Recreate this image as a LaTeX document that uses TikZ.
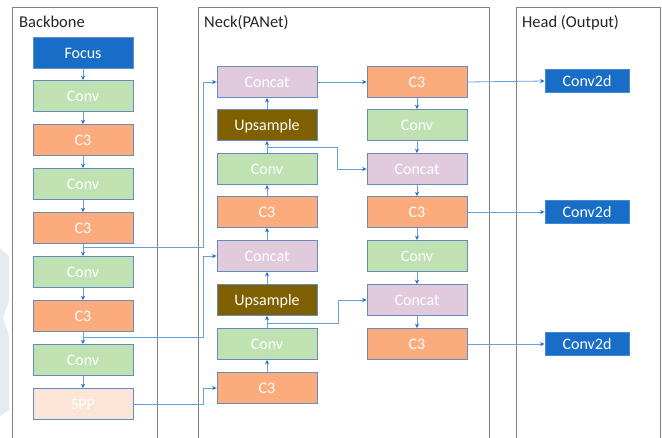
\documentclass[tikz,border=0pt]{standalone}
\usepackage{fontspec}
\setmainfont{Carlito}
\usetikzlibrary{arrows.meta}
\definecolor{fblue}{RGB}{24,110,198}
\definecolor{cgreen}{RGB}{192,225,178}
\definecolor{corange}{RGB}{252,172,124}
\definecolor{cpink}{RGB}{226,202,221}
\definecolor{cbrown}{RGB}{127,96,0}
\definecolor{cspp}{RGB}{252,228,214}
\definecolor{bord}{RGB}{100,140,190}
\definecolor{lnk}{RGB}{100,160,220}
\definecolor{tip}{RGB}{40,110,195}
\definecolor{panel}{RGB}{130,130,130}
\definecolor{wm}{RGB}{228,236,242}
\tikzset{
  blk/.style={draw=bord, line width=0.8pt, minimum width=100pt, minimum height=31pt, inner sep=0pt,
    text=white, font=\fontsize{16}{18}\selectfont, text height=10.5pt, text depth=0pt},
  focusb/.style={blk, fill=fblue},
  convb/.style={blk, fill=cgreen},
  cthree/.style={blk, fill=corange},
  concatb/.style={blk, fill=cpink},
  upb/.style={blk, fill=cbrown},
  sppb/.style={blk, fill=cspp},
  headb/.style={blk, fill=fblue, minimum width=84pt, minimum height=23pt, draw=fblue!80!white},
  arr/.style={draw=lnk, line width=0.8pt, -{Stealth[length=4.5pt,width=4pt,color=tip]}},
  pan/.style={draw=panel, line width=1pt},
  ttl/.style={anchor=base west, inner sep=0pt, text=black!85, font=\fontsize{16.5}{18}\selectfont}
}
\begin{document}
\begin{tikzpicture}[x=1pt,y=-1pt]
\clip (0,0) rectangle (662,437);
\fill[white] (0,0) rectangle (662,437);
% watermark
\fill[wm] (0,248) -- (9,256) -- (9,300) -- (3,318) -- (9,336) -- (9,410) -- (0,416) -- cycle;
% panels
\draw[pan] (12,7) rectangle (157,460);
\draw[pan] (198,7) rectangle (489,460);
\draw[pan] (516,7) rectangle (660,460);
\node[ttl] (t1) at (19,27) {Backbone};
\node[ttl] (t2) at (204,27) {Neck(PANet)};
\node[ttl] (t3) at (522,27) {Head (Output)};
% backbone
\node[focusb] (b1) at (83,53) {Focus};
\node[convb] (b2) at (83,96) {Conv};
\node[cthree] (b3) at (83,140) {C3};
\node[convb] (b4) at (83,184) {Conv};
\node[cthree] (b5) at (83,228) {C3};
\node[convb] (b6) at (83,272) {Conv};
\node[cthree] (b7) at (83,316) {C3};
\node[convb] (b8) at (83,360) {Conv};
\node[sppb] (b9) at (83,404) {SPP};
% neck column 1
\node[concatb] (n1) at (267,82) {Concat};
\node[upb] (n2) at (267,125) {Upsample};
\node[convb] (n3) at (267,169) {Conv};
\node[cthree] (n4) at (267,212) {C3};
\node[concatb] (n5) at (267,256) {Concat};
\node[upb] (n6) at (267,300) {Upsample};
\node[convb] (n7) at (267,344) {Conv};
\node[cthree] (n8) at (267,388) {C3};
% neck column 2
\node[cthree] (m1) at (417,82) {C3};
\node[convb] (m2) at (417,125) {Conv};
\node[concatb] (m3) at (417,169) {Concat};
\node[cthree] (m4) at (417,212) {C3};
\node[convb] (m5) at (417,256) {Conv};
\node[concatb] (m6) at (417,300) {Concat};
\node[cthree] (m7) at (417,344) {C3};
% head
\node[headb] (h1) at (587,81) {Conv2d};
\node[headb] (h2) at (587,212) {Conv2d};
\node[headb] (h3) at (587,344) {Conv2d};
% backbone arrows
\foreach \a/\b in {b1/b2,b2/b3,b3/b4,b4/b5,b5/b6,b6/b7,b7/b8,b8/b9}
  \draw[arr] (\a.south) -- (\b.north);
% neck column 1 arrows (upward)
\foreach \a/\b in {n8/n7,n7/n6,n6/n5,n5/n4,n4/n3,n3/n2,n2/n1}
  \draw[arr] (\a.north) -- (\b.south);
% neck column 2 arrows (downward)
\foreach \a/\b in {m1/m2,m2/m3,m3/m4,m4/m5,m5/m6,m6/m7}
  \draw[arr] (\a.south) -- (\b.north);
% branch points
\coordinate (j1) at (83,247);
\coordinate (j2) at (83,337);
\coordinate (j3) at (267,147);
\coordinate (j4) at (267,323);
% backbone to neck
\draw[arr] (j1) -- (203,247) |- (n1.west);
\draw[arr] (j2) -- (203,337) |- (n5.west);
\draw[arr] (b9.east) -- (203,404) |- (n8.west);
% neck cross links
\draw[arr] (n1.east) -- (m1.west);
\draw[arr] (j3) -- (337,147) |- (m3.west);
\draw[arr] (j4) -- (338,323) |- (m6.west);
% outputs
\draw[arr] (m1.east) -- (h1.west);
\draw[arr] (m4.east) -- (h2.west);
\draw[arr] (m7.east) -- (h3.west);
\end{tikzpicture}
\end{document}
